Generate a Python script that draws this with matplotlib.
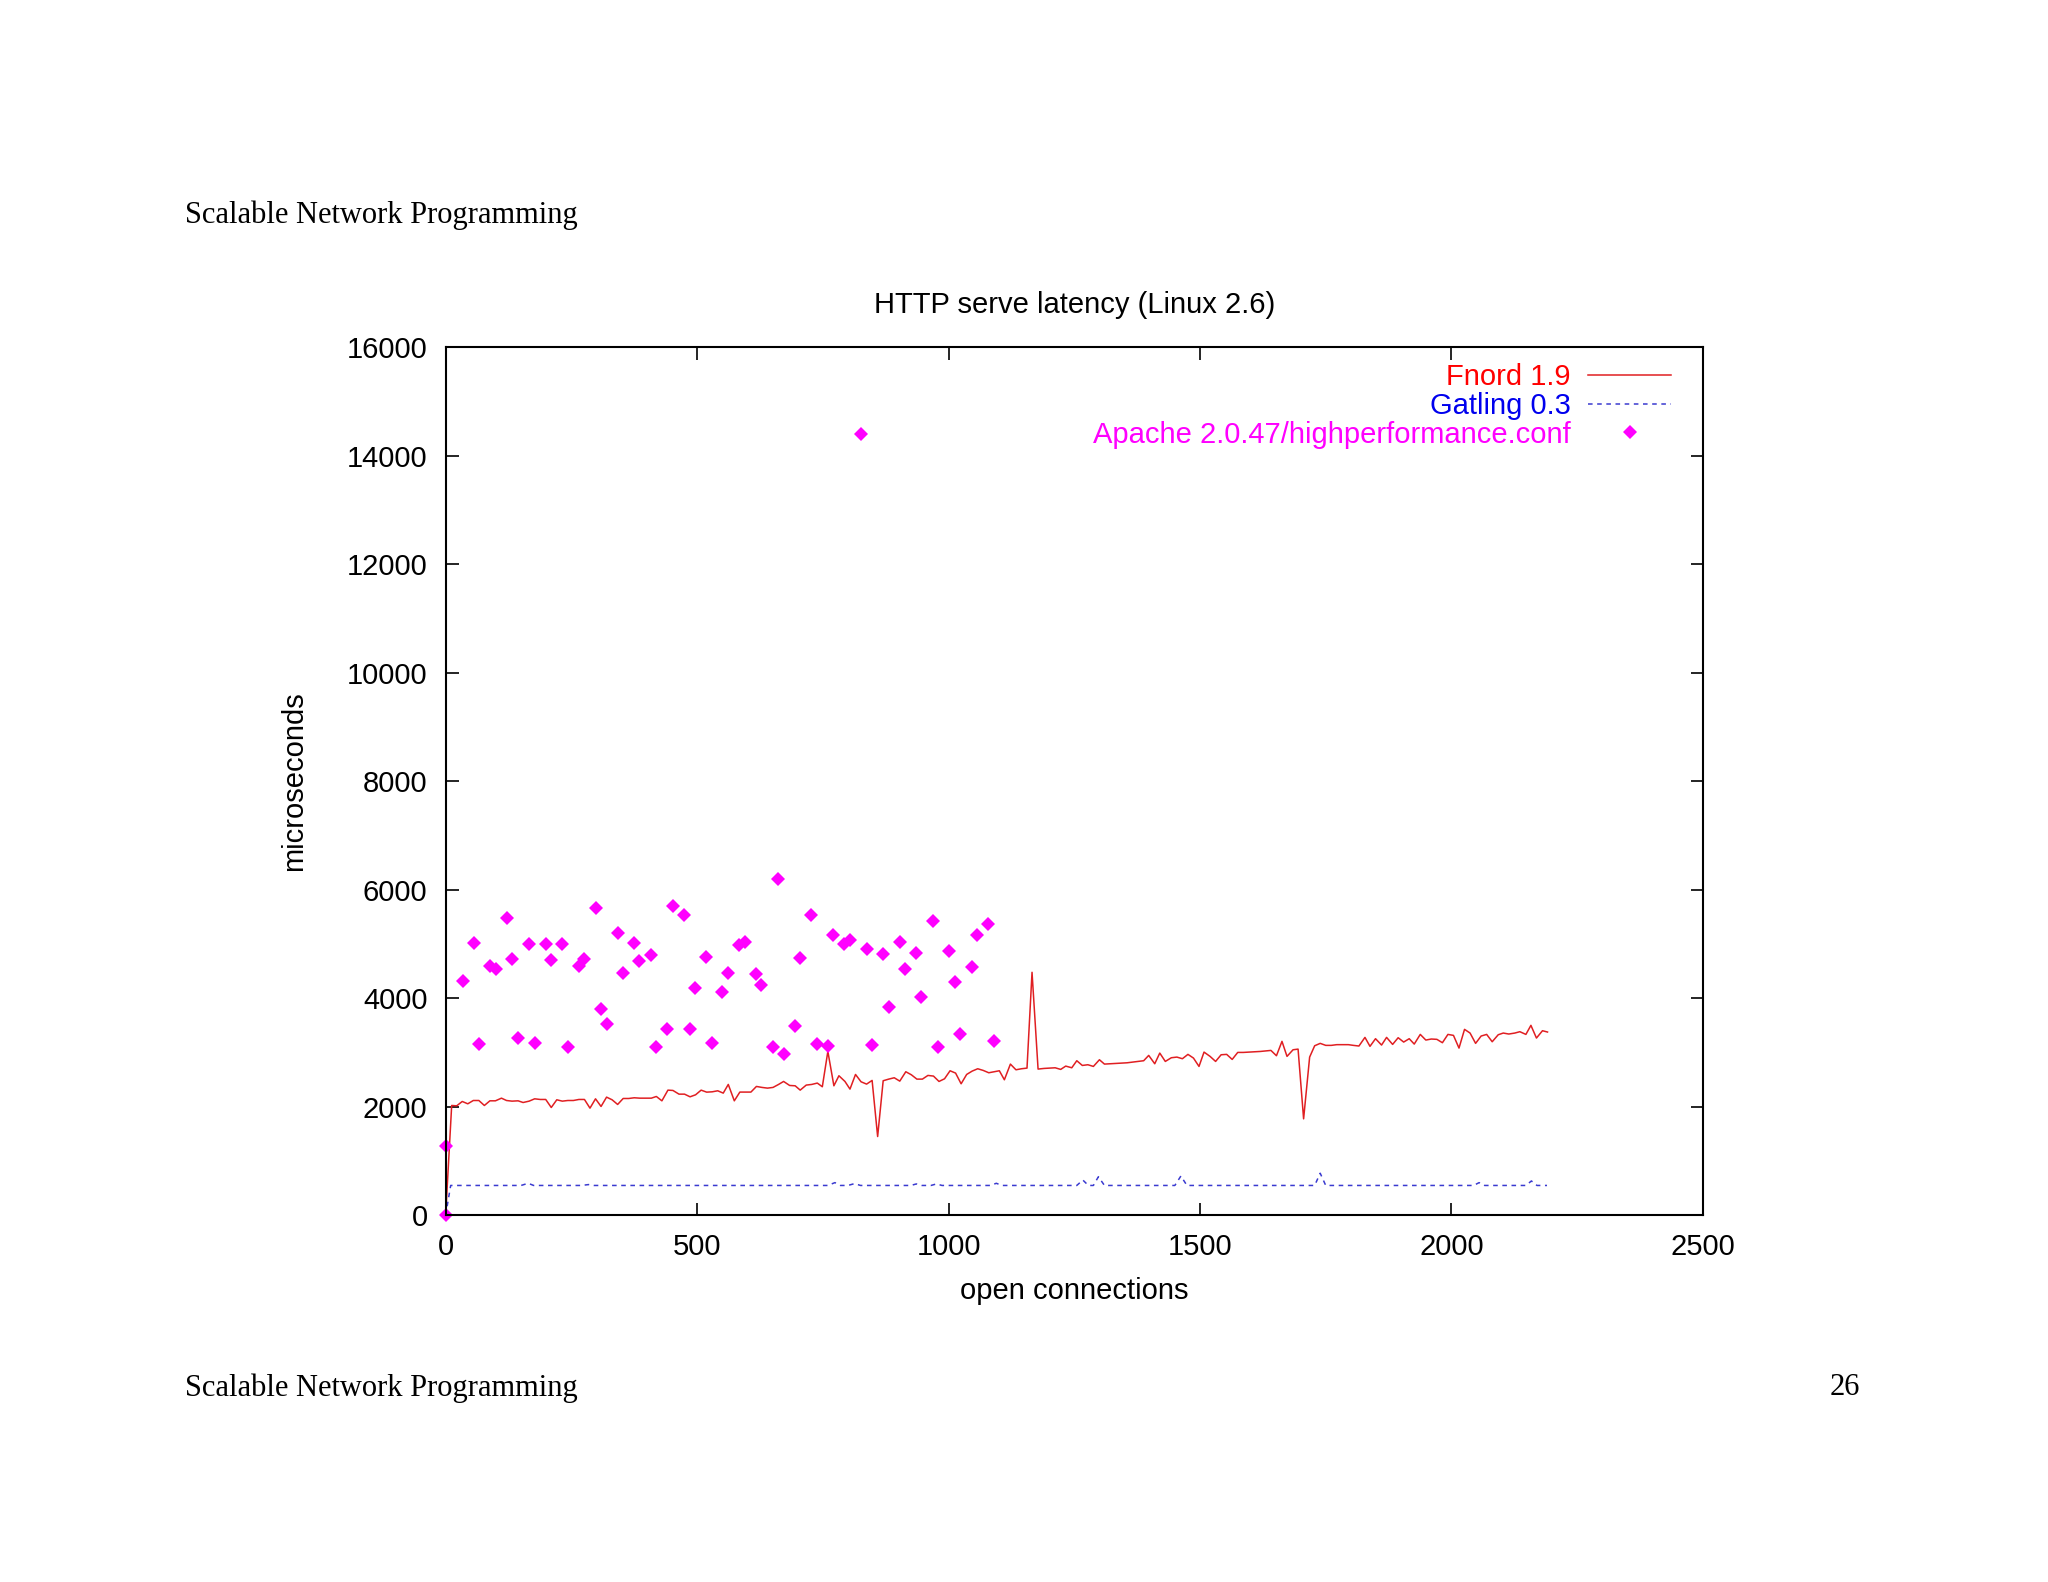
import matplotlib
matplotlib.use("Agg")
import matplotlib.pyplot as plt

plt.rcParams['font.family'] = ['Liberation Sans', 'DejaVu Sans']

# Fnord 1.9 (red line)
fnord_x = [0, 12, 22, 33, 44, 55, 66, 77, 88,
           99, 111, 121, 132, 144, 154, 166, 177, 188, 199,
           210, 221, 232, 243, 254, 265, 276, 287, 298, 309,
           320, 331, 342, 353, 364, 375, 386, 397, 409, 419,
           430, 442, 452, 464, 475, 486, 497, 508, 519, 530, 541,
           552, 562, 574, 585, 595, 607, 618, 629, 640, 651,
           662, 672, 684, 695, 705, 717, 728, 739, 749, 760,
           772, 782, 794, 804, 815, 826, 837, 848, 859, 870,
           881, 892, 903, 915, 926, 937, 948, 959, 970, 981,
           992, 1003, 1014, 1025, 1036, 1047, 1058, 1069, 1080, 1091, 1101,
           1111, 1123, 1134, 1145, 1156, 1166, 1178, 1190, 1201, 1212,
           1223, 1233, 1245, 1255, 1266, 1277, 1288, 1300, 1310, 1321,
           1333, 1344, 1355, 1366, 1377, 1388, 1398, 1410, 1420, 1431,
           1443, 1454, 1465, 1476, 1487, 1498, 1508, 1520, 1531, 1542,
           1553, 1564, 1575, 1586, 1598, 1608, 1620, 1631, 1641, 1652,
           1663, 1673, 1685, 1695, 1706, 1718, 1728, 1739, 1750, 1761,
           1772, 1783, 1795, 1805, 1816, 1828, 1838, 1849, 1861, 1871,
           1883, 1894, 1905, 1916, 1926, 1938, 1949, 1960, 1971, 1982,
           1993, 2004, 2015, 2026, 2037, 2048, 2059, 2070, 2081, 2093,
           2103, 2114, 2126, 2136, 2148, 2158, 2169, 2181, 2191]
fnord_y = [0, 2024, 2018, 2098, 2055, 2116, 2116, 2024, 2110,
           2110, 2159, 2116, 2104, 2110, 2079, 2104, 2147, 2135, 2135,
           1987, 2129, 2104, 2116, 2116, 2135, 2135, 1975, 2147, 2006,
           2178, 2129, 2043, 2153, 2153, 2166, 2159, 2159, 2159, 2190,
           2110, 2307, 2301, 2233, 2233, 2184, 2221, 2307, 2270, 2276, 2295,
           2252, 2412, 2110, 2271, 2271, 2271, 2375, 2357, 2344, 2357,
           2412, 2467, 2393, 2387, 2307, 2400, 2412, 2437, 2369, 3021,
           2387, 2572, 2467, 2326, 2596, 2461, 2418, 2486, 1452, 2480,
           2510, 2535, 2473, 2646, 2590, 2510, 2510, 2578, 2566, 2467,
           2516, 2664, 2621, 2424, 2596, 2658, 2701, 2670, 2627, 2646, 2664,
           2498, 2787, 2682, 2701, 2713, 4479, 2695, 2707, 2713, 2719,
           2689, 2750, 2719, 2849, 2762, 2775, 2744, 2867, 2787, 2793,
           2799, 2805, 2811, 2824, 2836, 2849, 2947, 2793, 2990, 2836,
           2904, 2916, 2886, 2966, 2898, 2744, 3008, 2929, 2836, 2959,
           2966, 2873, 3002, 3002, 3008, 3014, 3020, 3030, 3039, 2941,
           3206, 2929, 3051, 3063, 1778, 2916, 3125, 3169, 3132, 3132,
           3145, 3145, 3145, 3132, 3120, 3279, 3114, 3255, 3138, 3279,
           3150, 3273, 3193, 3255, 3156, 3334, 3230, 3249, 3243, 3181,
           3334, 3316, 3082, 3427, 3359, 3169, 3304, 3334, 3199, 3328,
           3359, 3341, 3359, 3384, 3334, 3501, 3267, 3402, 3378]

# Gatling 0.3 (blue dashed)
gatling_x = [0, 10, 150, 164, 175, 270, 284, 295, 760, 774,
             785, 800, 813, 825, 925, 936, 947, 965, 976, 987,
             1083, 1095, 1106, 1255, 1267, 1278, 1288, 1298, 1310, 1450,
             1462, 1474, 1728, 1739, 1750, 2044, 2055, 2066, 2148, 2159,
             2170, 2190]
gatling_y = [0, 550, 550, 590, 550, 550, 566, 550, 550, 602,
             550, 550, 584, 550, 550, 578, 550, 550, 578, 550,
             550, 590, 550, 550, 650, 550, 550, 711, 550, 550,
             724, 550, 550, 775, 550, 550, 602, 550, 550, 633,
             550, 550]

# Apache 2.0.47/highperformance.conf (magenta points)
apache_x = [0, 0, 34, 56, 67, 89, 100, 122, 132, 144,
            166, 177, 199, 210, 232, 243, 265, 275, 298, 309,
            320, 342, 353, 375, 385, 408, 419, 440, 452, 474,
            485, 496, 518, 529, 550, 562, 583, 595, 617, 627,
            650, 661, 672, 694, 705, 726, 738, 760, 771, 793,
            804, 825, 837, 848, 870, 881, 903, 914, 936, 946,
            969, 979, 1001, 1012, 1023, 1046, 1056, 1079, 1090]
apache_y = [0, 1268, 4319, 5021, 3162, 4596, 4541, 5483, 4732, 3262,
            5009, 3168, 5003, 4701, 5003, 3094, 4590, 4726, 5673, 3796,
            3525, 5206, 4467, 5021, 4695, 4800, 3100, 3439, 5699, 5544,
            3439, 4184, 4763, 3168, 4116, 4461, 4990, 5033, 4449, 4245,
            3107, 6191, 2966, 3483, 4745, 5526, 3150, 3125, 5163, 5003,
            5076, 14404, 4904, 3131, 4824, 3840, 5033, 4541, 4837, 4024,
            5427, 3107, 4867, 4295, 3347, 4584, 5169, 5378, 3212]

labels = ["Fnord 1.9", "Gatling 0.3", "Apache 2.0.47/highperformance.conf"]
colors = ["#ff0000", "#0000ee", "#ff00ff"]

fig = plt.figure(figsize=(20.48, 15.82), dpi=100)
ax = fig.add_axes([0.2176, 0.2318, 0.6139, 0.5487])

ax.plot(fnord_x, fnord_y, color="#e01f22", lw=1.1, label=labels[0])
ax.plot(gatling_x, gatling_y, color="#3a3ad0", lw=1.1, linestyle=(0, (3, 3)), label=labels[1])
ax.plot(apache_x, apache_y, linestyle="none", marker="D", markersize=7.5,
        color="#ff00ff", markeredgewidth=0, label=labels[2], clip_on=False)

ax.set_xlim(0, 2500)
ax.set_ylim(0, 16000)
ax.set_xticks(range(0, 2501, 500))
ax.set_yticks(range(0, 16001, 2000))
ax.tick_params(direction="in", length=9, width=1.2, top=True, right=True,
               labelsize=21, pad=13)
ax.tick_params(axis="y", pad=13)
for s in ax.spines.values():
    s.set_linewidth(1.5)

ax.set_title("HTTP serve latency (Linux 2.6)", fontsize=21, pad=25)
ax.set_xlabel("open connections", fontsize=21, labelpad=11)
ax.set_ylabel("microseconds", fontsize=21, labelpad=28)

leg = ax.legend(loc="upper right", bbox_to_anchor=(0.975, 0.982), frameon=False,
                markerfirst=False, fontsize=21, handlelength=2.85,
                handletextpad=0.6, labelspacing=0.03, borderpad=0, borderaxespad=0)
for t, c in zip(leg.get_texts(), colors):
    t.set_color(c)

fig.text(0.0903, 0.8638, "Scalable Network Programming", family="Liberation Serif",
         fontsize=22, va="center", ha="left")
fig.text(0.0903, 0.1227, "Scalable Network Programming", family="Liberation Serif",
         fontsize=22, va="center", ha="left")
fig.text(0.9009, 0.1227, "26", family="Liberation Serif", fontsize=22,
         va="center", ha="center")

fig.savefig("out.png", dpi=100)
